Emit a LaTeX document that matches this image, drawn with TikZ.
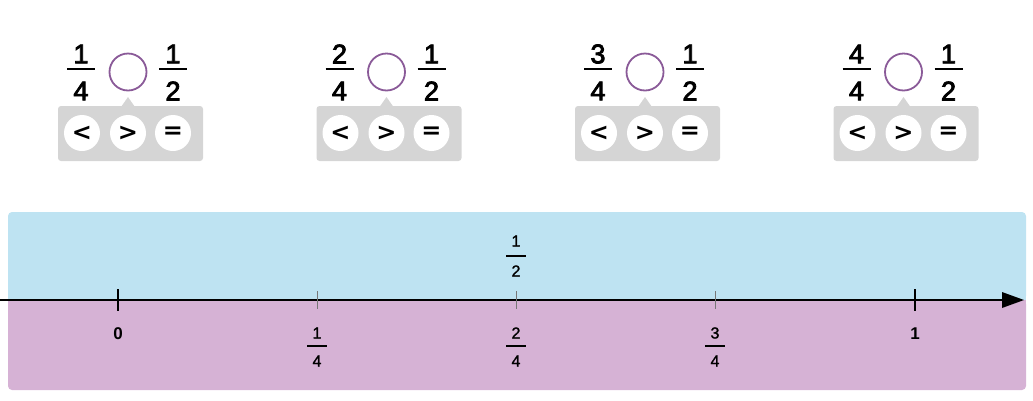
\documentclass[tikz,border=0pt]{standalone}
\usepackage{fontspec}
\setmainfont{Liberation Sans}
\newfontfamily\semibold[FakeBold=3]{Liberation Sans}
\newfontfamily\lightbold[FakeBold=1.5]{Liberation Sans}
\newfontfamily\btnfont{DejaVu Sans}
\definecolor{bandblue}{HTML}{BEE3F2}
\definecolor{bandpurple}{HTML}{D6B2D5}
\definecolor{boxgrey}{HTML}{D5D5D5}
\definecolor{ringpurple}{HTML}{8A5A98}
\definecolor{tickgrey}{HTML}{777777}
\tikzset{
  bignum/.style={inner sep=0pt, font=\fontsize{27}{27}\semibold},
  smallnum/.style={inner sep=0pt, font=\fontsize{16}{16}\lightbold},
  boldnum/.style={inner sep=0pt, font=\fontsize{17}{17}\selectfont\bfseries},
  btn/.style={circle, fill=white, minimum size=36pt, inner sep=0pt, font=\fontsize{24}{24}\btnfont\bfseries},
  ring/.style={circle, draw=ringpurple, line width=1.8pt, minimum size=37pt, inner sep=0pt},
  panel/.style={fill=boxgrey, rounded corners=3pt},
  bigbar/.style={line width=2.4pt},
  smallbar/.style={line width=1.5pt},
  majortick/.style={line width=1.8pt},
  minortick/.style={line width=0.9pt, draw=tickgrey},
}
\begin{document}
\begin{tikzpicture}[x=1pt,y=-1pt]
\useasboundingbox (0,0) rectangle (1033,400);
% bands
\fill[bandblue, rounded corners=4pt] (8,212) rectangle (1026,300);
\fill[bandpurple, rounded corners=4pt] (8,300) rectangle (1026,390);
\fill[bandblue] (8,280) rectangle (1026,300);
\fill[bandpurple] (8,300) rectangle (1026,320);
% comparison panels
\foreach \i/\n [count=\k from 0] in {a/1,b/2,c/3,d/4}{
  \pgfmathsetmacro{\cx}{128+258.5*\k}
  \fill[panel] (\cx-70,106) rectangle (\cx+75,161);
  \fill[boxgrey] (\cx-7,107) -- (\cx,97) -- (\cx+7,107) -- cycle;
  \node[ring] (ring\i) at (\cx,72) {};
  % left fraction
  \node[bignum] (ln\i) at (\cx-47,54) {\n};
  \node[bignum] (ld\i) at (\cx-47,91) {4};
  \draw[bigbar] (\cx-61,69) -- (\cx-33,69);
  % right fraction
  \node[bignum] (rn\i) at (\cx+45,54) {1};
  \node[bignum] (rd\i) at (\cx+45,91) {2};
  \draw[bigbar] (\cx+31,69) -- (\cx+59,69);
  % buttons
  \node[btn] (lt\i) at (\cx-46,133) {<};
  \node[btn] (gt\i) at (\cx,133) {>};
  \node[btn] (eq\i) at (\cx+45,133) {=};
}
% axis
\coordinate (axs) at (0,300);
\coordinate (axe) at (1004,300);
\draw[line width=1.1pt] (axs) -- (axe);
\fill (1002,292) -- (1024,300) -- (1002,308) -- cycle;
% ticks
\draw[majortick] (118,289) -- (118,311);
\draw[majortick] (915,289) -- (915,311);
\foreach \x in {317,516,715}{\draw[minortick] (\x,291) -- (\x,309);}
% labels
\node[boldnum] (z) at (118,334) {0};
\node[boldnum] (o) at (915,334) {1};
\foreach \x/\n/\nm in {317/1/q1,516/2/q2,715/3/q3}{
  \node[smallnum] (\nm n) at (\x,333) {\n};
  \draw[smallbar] (\x-10,346) -- (\x+10,346);
  \node[smallnum] (\nm d) at (\x,361) {4};
}
\node[smallnum] (hn) at (516,241) {1};
\draw[smallbar] (506,256) -- (526,256);
\node[smallnum] (hd) at (516,271) {2};
\end{tikzpicture}
\end{document}
